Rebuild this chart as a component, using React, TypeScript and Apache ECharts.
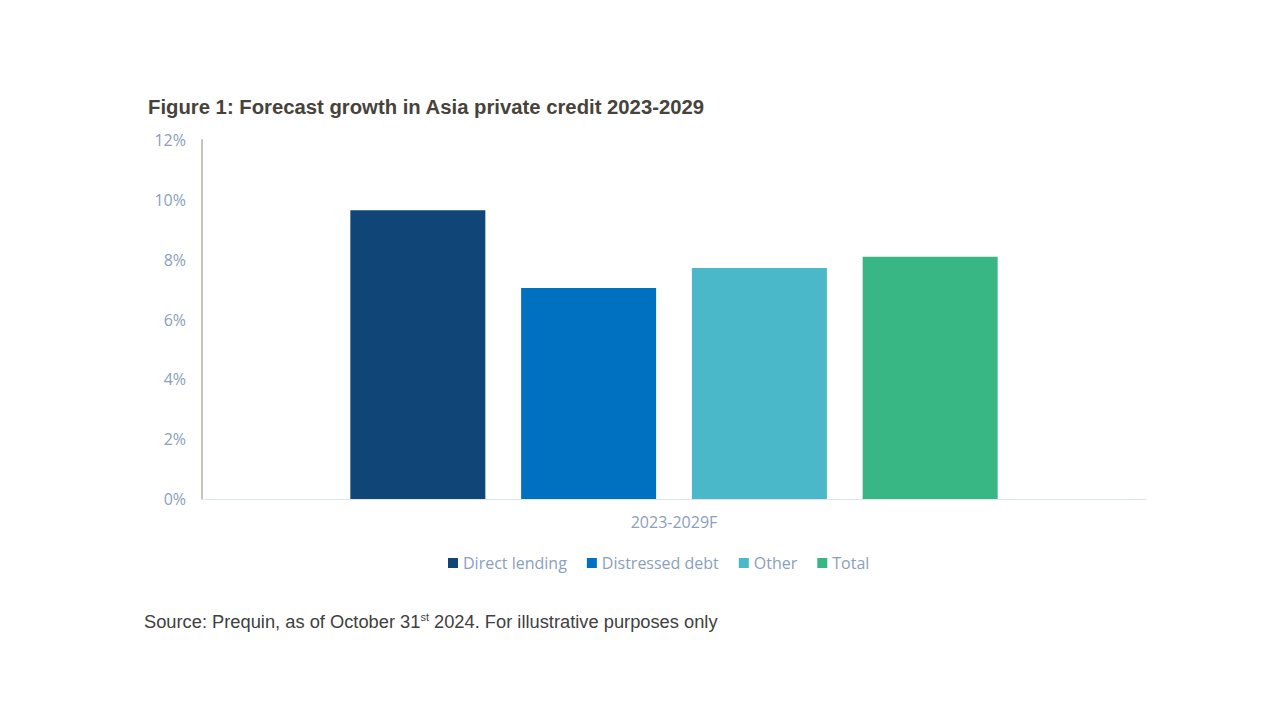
import React, { useEffect, useRef } from "react";
import * as echarts from "echarts";

const categories = ["2023-2029F"];
const seriesNames = ["Direct lending", "Distressed debt", "Other", "Total"];
const seriesValues = [[9.65], [7.05], [7.72], [8.1]];
const seriesColors = ["#0f4577", "#0070c0", "#4ab8c9", "#38b785"];
const yTicks = [0, 2, 4, 6, 8, 10, 12];

const titleText = "Figure 1: Forecast growth in Asia private credit 2023-2029";

export default function App() {
  const ref = useRef<HTMLDivElement>(null);
  useEffect(() => {
    if (!ref.current) return;
    const chart = echarts.init(ref.current, null, { renderer: "svg" });
    const labelColor = "#8aa0bd";
    const font = "'Open Sans', sans-serif";
    chart.setOption({
      animation: false,
      backgroundColor: "#ffffff",
      grid: { left: 202, right: 134, top: 140, bottom: 221 },
      legend: {
        data: seriesNames,
        bottom: 144,
        left: 443,
        icon: "rect",
        itemWidth: 10,
        itemHeight: 10,
        itemGap: 20,
        textStyle: { color: labelColor, fontSize: 16, fontFamily: font },
      },
      xAxis: {
        type: "category",
        data: categories,
        axisLine: { lineStyle: { color: "#dde5ee", width: 1 } },
        axisTick: { show: false },
        axisLabel: { color: labelColor, fontSize: 16, fontFamily: font, margin: 15 },
      },
      yAxis: {
        type: "value",
        min: yTicks[0],
        max: yTicks[yTicks.length - 1],
        interval: 2,
        axisLine: { show: true, lineStyle: { color: "#c9c2b6", width: 2 } },
        axisTick: { show: false },
        splitLine: { show: false },
        axisLabel: {
          color: labelColor,
          fontSize: 16,
          fontFamily: font,
          margin: 16,
          formatter: (v: number) => `${v}%`,
        },
      },
      series: seriesNames.map((name, i) => ({
        name,
        type: "bar",
        data: seriesValues[i],
        barWidth: 135,
        barGap: "26.5%",
        itemStyle: { color: seriesColors[i] },
      })),
      graphic: [
        {
          type: "text",
          left: 148,
          top: 97,
          style: {
            text: titleText,
            fontSize: 20.3,
            fontWeight: "bold",
            fontFamily: "'Liberation Sans', Arial, sans-serif",
            fill: "#47433a",
          },
        },
        {
          type: "text",
          left: 144,
          top: 611,
          style: {
            text: "{a|Source: Prequin, as of October 31}{s|st}{a| 2024. For illustrative purposes only}",
            fill: "#404040",
            rich: {
              a: {
                fontSize: 18.3,
                fontFamily: "'Liberation Sans', Arial, sans-serif",
                fill: "#404040",
                verticalAlign: "bottom",
              },
              s: {
                fontSize: 11,
                fontFamily: "'Liberation Sans', Arial, sans-serif",
                fill: "#404040",
                verticalAlign: "top",
                padding: [0, 0, 8, 0],
              },
            },
          },
        },
      ],
    });
    return () => chart.dispose();
  }, []);
  return (
    <div
      ref={ref}
      style={{ position: "fixed", left: 0, top: 0, width: 1280, height: 720 }}
    />
  );
}
